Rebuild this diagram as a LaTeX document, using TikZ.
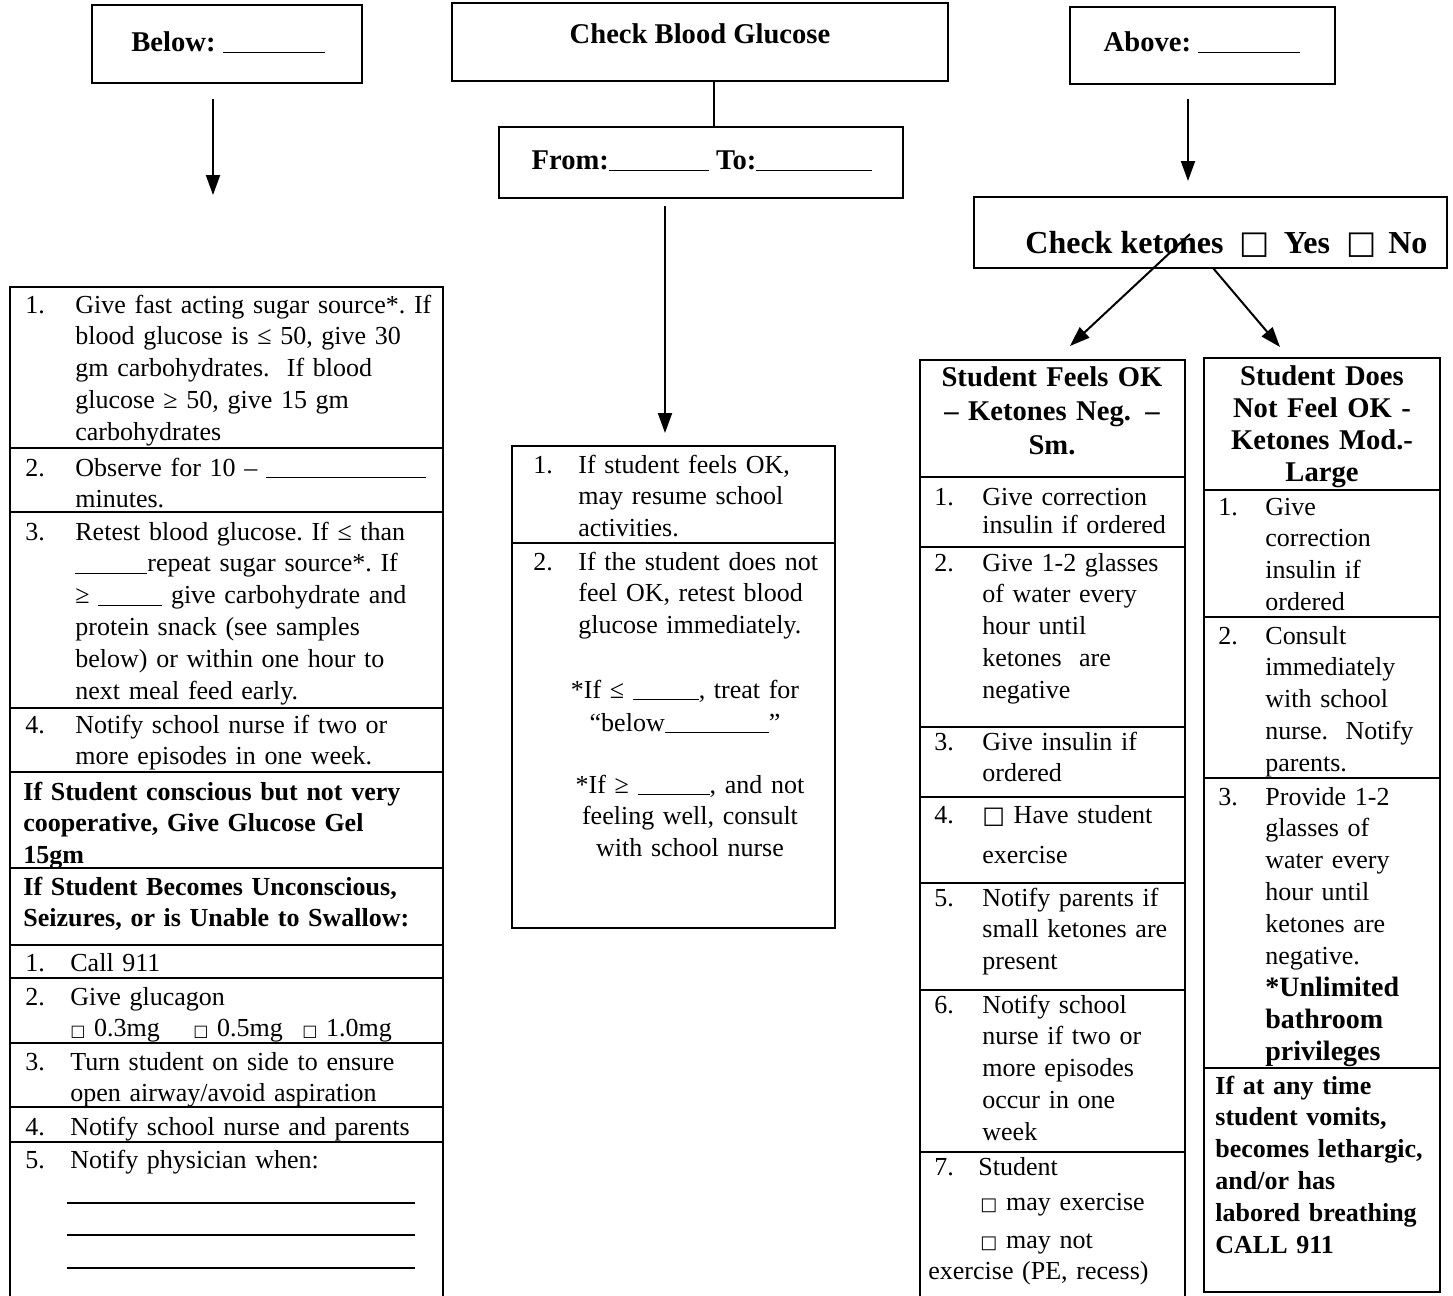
\documentclass[tikz,border=0pt]{standalone}
\usepackage{fontspec}
\setmainfont{Liberation Serif}
\newfontfamily\symfont{DejaVu Sans}
\usetikzlibrary{arrows.meta,fit}
\newcommand\bodyfont{\fontsize{13}{15.9}\selectfont\frenchspacing}
\newcommand\headfont{\fontsize{14.3}{16.5}\selectfont\bfseries\frenchspacing}
\newcommand\fillblank[1]{\rule[-1.2pt]{#1}{0.7pt}}
\newcommand\chkbox[1]{{\symfont\fontsize{#1}{#1}\selectfont □}}
\tikzset{
  flowBox/.style={draw, line width=1pt, inner sep=0pt},
  flowLine/.style={line width=1pt},
  flowArrow/.style={line width=1pt, -{Triangle[length=10pt,width=7pt]}},
  rowRule/.style={line width=0.9pt},
  boxLabel/.style={anchor=base, inner sep=0pt, font=\headfont},
  headText/.style={anchor=base, inner sep=0pt, align=center, text width=130pt, font=\headfont},
  noteText/.style={anchor=base, inner sep=0pt, align=center, text width=150pt, font=\bodyfont},
  cellText/.style={anchor=base west, inner sep=0pt, align=left, text width=220pt, font=\bodyfont},
  cellBold/.style={cellText, font=\bodyfont\bfseries},
  cellNum/.style={anchor=base west, inner sep=0pt, font=\bodyfont}
}
\begin{document}
\begin{tikzpicture}[x=0.5pt, y=-0.5pt]
  \useasboundingbox (0,0) rectangle (1453,1296);
  \fill[white] (0,0) rectangle (1453,1296);

  \node[flowBox, fit={(92,5) (362,83)}] (below) {};
  \node[flowBox, fit={(452,3) (948,81)}] (check) {};
  \node[flowBox, fit={(499,127) (903,198)}] (range) {};
  \node[flowBox, fit={(1070,7) (1335,84)}] (above) {};
  \node[flowBox, fit={(974,197) (1447,268)}] (ketones) {};

  \node[boxLabel] (belowTxt) at (228,51) {Below: \fillblank{51pt}};
  \node[boxLabel] (checkTxt) at (700,43) {Check Blood Glucose};
  \node[boxLabel] (rangeTxt) at (702,169) {From:\fillblank{50pt} To:\fillblank{58pt}};
  \node[boxLabel] (aboveTxt) at (1202,51) {Above: \fillblank{51pt}};
  \node[boxLabel, anchor=base west, font=\fontsize{16}{18}\selectfont\bfseries] (ketTxt) at (1025,253)
    {Check ketones\hspace{8pt}\chkbox{16}\hspace{7pt}Yes\hspace{8pt}\chkbox{16}\hspace{6pt}No};

  \node[flowBox, fit={(10,287) (443,1320)}] (lowTab) {};
  \foreach \y in {448,512,708,772,868,945,978,1043,1107,1142}
    \draw[rowRule] (10,\y) -- (443,\y);
  \foreach \n/\y in {1/313,2/476,3/540,4/733}
    \node[cellNum] (lowNum\n) at (25,\y) {\n.};
  \node[cellText] (low1) at (75,313) {Give fast acting sugar source*. If\\ blood glucose is ≤ 50, give 30\\ gm carbohydrates.\ \ If blood\\ glucose ≥ 50, give 15 gm\\ carbohydrates};
  \node[cellText] (low2) at (75,476) {Observe for 10 – \fillblank{80pt}\\ minutes.};
  \node[cellText] (low3) at (75,540) {Retest blood glucose. If ≤ than\\ \fillblank{36pt}repeat sugar source*. If\\ ≥ \fillblank{32pt} give carbohydrate and\\ protein snack (see samples\\ below) or within one hour to\\ next meal feed early.};
  \node[cellText] (low4) at (75,733) {Notify school nurse if two or\\ more episodes in one week.};
  \node[cellBold] (gel) at (23,800) {If Student conscious but not very\\ cooperative, Give Glucose Gel\\ 15gm};
  \node[cellBold] (emHead) at (23,895) {If Student Becomes Unconscious,\\ Seizures, or is Unable to Swallow:};
  \foreach \n/\y in {1/971,2/1005,3/1070,4/1135,5/1168}
    \node[cellNum] (emNum\n) at (25,\y) {\n.};
  \node[cellText] (em1) at (70,971) {Call 911};
  \node[cellText] (em2) at (70,1005) {Give glucagon\\ \makebox[61.5pt][l]{\chkbox{8} 0.3mg}\makebox[54.5pt][l]{\chkbox{8} 0.5mg}\chkbox{8} 1.0mg};
  \node[cellText] (em3) at (70,1070) {Turn student on side to ensure\\ open airway/avoid aspiration};
  \node[cellText] (em4) at (70,1135) {Notify school nurse and parents};
  \node[cellText] (em5) at (70,1168) {Notify physician when:};
  \draw[line width=1.2pt] (67,1203) -- (415,1203);
  \draw[line width=0.7pt] (67,1235) -- (415,1235);
  \draw[line width=0.7pt] (67,1268) -- (415,1268);

  \node[flowBox, fit={(512,446) (835,928)}] (midTab) {};
  \draw[rowRule] (512,543) -- (835,543);
  \foreach \n/\y in {1/473,2/570}
    \node[cellNum] (midNum\n) at (533,\y) {\n.};
  \node[cellText] (mid1) at (578,473) {If student feels OK,\\ may resume school\\ activities.};
  \node[cellText] (mid2) at (578,570) {If the student does not\\ feel OK, retest blood\\ glucose immediately.};
  \node[noteText, font=\fontsize{13}{16.5}\selectfont] (midLow) at (685,698) {*If ≤ \fillblank{33pt}, treat for\\ “below\fillblank{52pt}”};
  \node[noteText] (midHigh) at (690,793) {*If ≥ \fillblank{36pt}, and not\\ feeling well, consult\\ with school nurse};

  \node[flowBox, fit={(920,360) (1185,1320)}] (okTab) {};
  \foreach \y in {477,547,727,797,883,990,1152}
    \draw[rowRule] (920,\y) -- (1185,\y);
  \node[headText, font=\fontsize{14.3}{17.2}\selectfont\bfseries] (okHead) at (1052,386) {Student Feels OK\\ – Ketones Neg. –\\ Sm.};
  \foreach \n/\y in {1/505,2/571,3/750,4/823,5/906,6/1013,7/1175}
    \node[cellNum] (okNum\n) at (934,\y) {\n.};
  \node[cellText, font=\fontsize{13}{14.2}\selectfont] (ok1) at (982,505) {Give correction\\ insulin if ordered};
  \node[cellText] (ok2) at (982,571) {Give 1-2 glasses\\ of water every\\ hour until\\ ketones\ \ are\\ negative};
  \node[cellText] (ok3) at (982,750) {Give insulin if\\ ordered};
  \node[cellText, font=\fontsize{13}{20}\selectfont] (ok4) at (982,823) {\chkbox{12} Have student\\ exercise};
  \node[cellText] (ok5) at (982,906) {Notify parents if\\ small ketones are\\ present};
  \node[cellText] (ok6) at (982,1013) {Notify school\\ nurse if two or\\ more episodes\\ occur in one\\ week};
  \node[cellText] (ok7) at (978,1175) {Student};
  \node[cellText] (ok7a) at (980,1210) {\chkbox{9} may exercise};
  \node[cellText] (ok7b) at (980,1248) {\chkbox{9} may not};
  \node[cellText] (ok7c) at (928,1279) {exercise (PE, recess)};

  \node[flowBox, fit={(1204,358) (1440,1292)}] (notTab) {};
  \foreach \y in {490,617,778,1068}
    \draw[rowRule] (1204,\y) -- (1440,\y);
  \node[headText, font=\fontsize{14.3}{16}\selectfont\bfseries] (notHead) at (1322,385) {Student Does\\ Not Feel OK -\\ Ketones Mod.-\\ Large};
  \foreach \n/\y in {1/515,2/644,3/805}
    \node[cellNum] (notNum\n) at (1218,\y) {\n.};
  \node[cellText] (not1) at (1265,515) {Give\\ correction\\ insulin if\\ ordered};
  \node[cellText] (not2) at (1265,644) {Consult\\ immediately\\ with school\\ nurse.\ \ Notify\\ parents.};
  \node[cellText] (not3) at (1265,805) {Provide 1-2\\ glasses of\\ water every\\ hour until\\ ketones are\\ negative.};
  \node[cellBold, font=\fontsize{14}{16}\selectfont\bfseries] (not3b) at (1265,996) {*Unlimited\\ bathroom\\ privileges};
  \node[cellBold] (vomit) at (1215,1094) {If at any time\\ student vomits,\\ becomes lethargic,\\ and/or has\\ labored breathing\\ CALL 911};

  \coordinate (belowX) at (213,0);
  \coordinate (checkX) at (714,0);
  \coordinate (rangeX) at (665,0);
  \coordinate (aboveX) at (1188,0);
  \coordinate (ketOutL) at (1190,234);
  \coordinate (ketOutR) at (1213,268);
  \coordinate (okIn) at (1070,346);
  \coordinate (notIn) at (1280,347);

  \draw[flowArrow, shorten <=7.5pt, shorten >=45.5pt] (below.south -| belowX) -- (lowTab.north -| belowX);
  \draw[flowLine] (check.south -| checkX) -- (range.north -| checkX);
  \draw[flowArrow, shorten <=3.5pt, shorten >=6pt] (range.south -| rangeX) -- (midTab.north -| rangeX);
  \draw[flowArrow, shorten <=7pt, shorten >=7.5pt] (above.south -| aboveX) -- (ketones.north -| aboveX);
  \draw[flowArrow] (ketOutL) -- (okIn);
  \draw[flowArrow] (ketOutR) -- (notIn);
\end{tikzpicture}
\end{document}
